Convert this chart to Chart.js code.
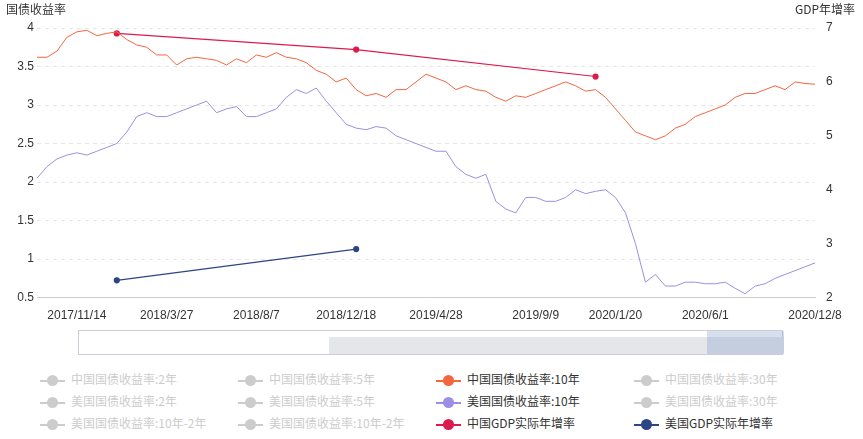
<!DOCTYPE html>
<html><head><meta charset="utf-8">
<script src="https://cdn.jsdelivr.net/npm/chart.js@4"></script>
<style>
body{margin:0;background:#fff;font-family:"Noto Sans CJK SC","Noto Sans",sans-serif;}
#wrap{position:relative;width:863px;height:439px;}
#c{position:absolute;left:0;top:0;}
.ax{position:absolute;font-size:12px;color:#333;top:0;}
#slider{position:absolute;left:78px;top:330px;width:705px;height:25px;border:1px solid #ccd;box-sizing:border-box;background:#fff;}
#sel{position:absolute;left:628px;top:0;width:77px;height:23px;background:rgba(140,160,200,0.35);}
#fill{position:absolute;left:250px;top:6px;width:455px;height:17px;background:#e4e6ea;}
.lg{position:absolute;font-size:12px;color:#ccc;white-space:nowrap;}
.lg i{display:inline-block;width:25px;height:2px;vertical-align:middle;margin-right:6px;position:relative;background:#ccc;}
.lg i:after{content:"";position:absolute;left:7px;top:-5px;width:11px;height:11px;border-radius:50%;background:inherit;}
</style></head><body>
<div id="wrap">
<canvas id="c" width="863" height="326"></canvas>
<div class="ax" style="left:6px">国债收益率</div>
<div class="ax" style="right:8px">GDP年增率</div>
<div id="slider"><div id="fill"></div><div id="sel"></div></div>
<div id="legend"></div>
</div>
<script>
const tickDates=["2017/11/14","2018/3/27","2018/8/7","2018/12/18","2019/4/28","2019/9/9","2020/1/20","2020/6/1","2020/12/8"];
const tickIdx=[4,13,22,31,40,50,58,67,78];
const cn10=[3.62,3.62,3.7,3.88,3.95,3.97,3.9,3.93,3.95,3.85,3.78,3.75,3.65,3.65,3.52,3.6,3.62,3.6,3.58,3.52,3.6,3.55,3.65,3.62,3.68,3.62,3.6,3.55,3.45,3.4,3.3,3.35,3.2,3.12,3.15,3.1,3.2,3.2,3.3,3.4,3.35,3.3,3.2,3.25,3.2,3.18,3.1,3.05,3.12,3.1,3.15,3.2,3.25,3.3,3.25,3.18,3.2,3.1,2.95,2.8,2.65,2.6,2.55,2.6,2.7,2.75,2.85,2.9,2.95,3.0,3.1,3.15,3.15,3.2,3.25,3.2,3.3,3.28,3.27];
const us10=[2.05,2.2,2.3,2.35,2.38,2.35,2.4,2.45,2.5,2.65,2.85,2.9,2.85,2.85,2.9,2.95,3.0,3.05,2.9,2.95,2.98,2.85,2.85,2.9,2.95,3.1,3.2,3.15,3.22,3.05,2.9,2.75,2.7,2.68,2.72,2.7,2.6,2.55,2.5,2.45,2.4,2.4,2.2,2.1,2.05,2.1,1.75,1.65,1.6,1.8,1.8,1.75,1.75,1.8,1.9,1.85,1.88,1.9,1.8,1.6,1.2,0.7,0.8,0.65,0.65,0.7,0.7,0.68,0.68,0.7,0.62,0.55,0.65,0.68,0.75,0.8,0.85,0.9,0.95];
const cnGdpIdx=[8,32,56], cnGdp=[6.9,6.6,6.1];
const usGdpIdx=[8,32], usGdp=[2.32,2.9];
const legendNames=["中国国债收益率:2年","中国国债收益率:5年","中国国债收益率:10年","中国国债收益率:30年","美国国债收益率:2年","美国国债收益率:5年","美国国债收益率:10年","美国国债收益率:30年","美国国债收益率:10年-2年","美国国债收益率:10年-2年","中国GDP实际年增率","美国GDP实际年增率"];
const legendColors={2:"#f4663f",6:"#9b8fe3",10:"#dd1a4c",11:"#2c4584"};

const labels=cn10.map(()=>"");
tickIdx.forEach((k,i)=>labels[k]=tickDates[i]);
const sparse=(idx,v)=>{const a=cn10.map(()=>null);idx.forEach((k,i)=>a[k]=v[i]);return a;};

new Chart(document.getElementById('c'),{
type:'line',
data:{labels,datasets:[
{data:cn10,borderColor:'#f4663f',borderWidth:1,pointRadius:0,tension:0,yAxisID:'y'},
{data:us10,borderColor:'#9b8fe3',borderWidth:1,pointRadius:0,tension:0,yAxisID:'y'},
{data:sparse(cnGdpIdx,cnGdp),borderColor:'#dd1a4c',backgroundColor:'#dd1a4c',borderWidth:1.2,pointRadius:2.5,spanGaps:true,yAxisID:'y1'},
{data:sparse(usGdpIdx,usGdp),borderColor:'#2c4584',backgroundColor:'#2c4584',borderWidth:1.2,pointRadius:2.5,spanGaps:true,yAxisID:'y1'}
]},
options:{responsive:false,animation:false,layout:{padding:{left:0,right:6,top:28,bottom:0}},
plugins:{legend:{display:false},tooltip:{enabled:false}},
scales:{
x:{grid:{display:false},border:{color:'#ccc'},ticks:{autoSkip:false,maxRotation:0,color:'#333',font:{size:12},callback:(v,i)=>labels[i]||null}},
y:{min:0.5,max:4,ticks:{stepSize:0.5,color:'#333',font:{size:12},callback:v=>String(+v.toFixed(1))},grid:{color:'#e6e6e6',tickLength:0},border:{display:false,dash:[4,4]},afterFit:s=>{s.width=37;}},
y1:{position:'right',min:2,max:7,ticks:{stepSize:1,color:'#333',font:{size:12}},grid:{display:false},border:{display:false},afterFit:s=>{s.width=42;}}
}}
});
const lg=document.getElementById('legend');
legendNames.forEach((n,i)=>{const d=document.createElement('div');d.className='lg';
d.style.left=(40+(i%4)*198)+'px';d.style.top=(370+Math.floor(i/4)*22)+'px';
const c=legendColors[i];if(c)d.style.color='#333';
d.innerHTML='<i style="background:'+(c||'#ccc')+'"></i>'+n;lg.appendChild(d);});
</script>
</body></html>
